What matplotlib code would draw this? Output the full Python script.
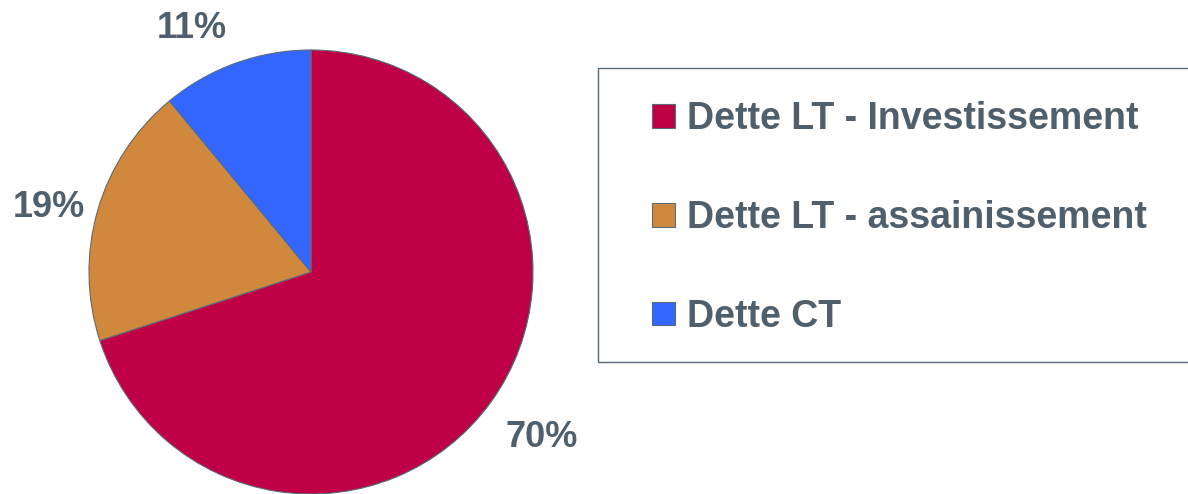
import matplotlib
matplotlib.use('Agg')
import matplotlib.pyplot as plt
from matplotlib.patches import Rectangle

# Data
labels = ['Dette LT - Investissement', 'Dette LT - assainissement', 'Dette CT']
shares = [70, 19, 11]
colors = ['#C00044', '#D0893C', '#3366FF']
text_color = '#4F5F6B'
edge_color = '#5A6A78'

# where the percentage labels sit (pie radius units, baseline)
label_pos = [(1.038, -0.788), (-1.18, 0.248), (-0.538, 1.054)]

plt.rcParams['font.family'] = ['Liberation Sans', 'DejaVu Sans']

fig = plt.figure(figsize=(11.88, 4.94), dpi=100)

# Pie axes: centre at (311, 272) px from top-left, radius 222 px
W, H = 1188, 494
r = 222
ax = fig.add_axes([(311 - r) / W, (H - 272 - r) / H, 2 * r / W, 2 * r / H])
wedges, texts, autotexts = ax.pie(
    shares, colors=colors, startangle=90, counterclock=False, radius=1,
    autopct='%d%%', pctdistance=1.24,
    wedgeprops=dict(edgecolor=edge_color, linewidth=0.8),
    textprops=dict(color=text_color, fontsize=26, fontweight='bold'))
for t, (x, y) in zip(autotexts, label_pos):
    t.set_position((x, y))
    t.set_va('baseline')
    t.set_ha('center')
ax.set_xlim(-1, 1)
ax.set_ylim(-1, 1)
ax.set_aspect('equal')
ax.axis('off')

# Legend box
fig.patches.append(Rectangle((598 / W, (H - 362) / H), (1200 - 598) / W, (362 - 68) / H,
                             transform=fig.transFigure, fill=False,
                             edgecolor=edge_color, linewidth=1))

leg = fig.legend(wedges, labels, loc='center left',
                 bbox_to_anchor=(652 / W, 1 - 218 / H), frameon=False,
                 borderpad=0, borderaxespad=0,
                 handlelength=0.6, handleheight=0.6, handletextpad=0.32,
                 labelspacing=1.67,
                 prop=dict(family=['Liberation Sans', 'DejaVu Sans'], size=27, weight='bold'))
for t in leg.get_texts():
    t.set_color(text_color)

fig.savefig('out.png', dpi=100)
